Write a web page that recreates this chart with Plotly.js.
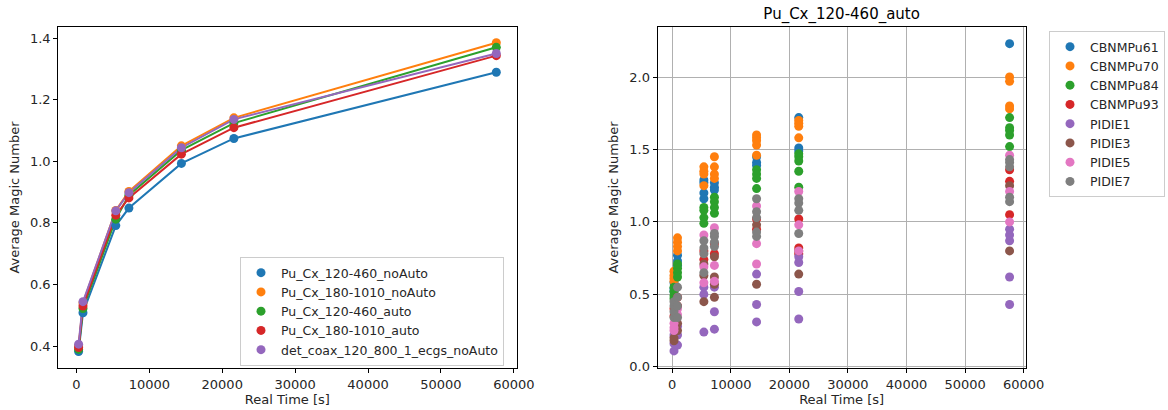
<!DOCTYPE html>
<html>
<head>
<meta charset="utf-8">
<script src="https://cdn.plot.ly/plotly-3.0.1.min.js"></script>
<style>
  html, body { margin: 0; padding: 0; background: #fff; }
  #chart { width: 1168px; height: 410px; }
</style>
</head>
<body>
<div id="chart"></div>
<script>
// ---------- data ----------
const timeSec = [300, 900, 5400, 7200, 14400, 21600, 57600];

// Left panel: average magic number per configuration
const configNames = [
  "Pu_Cx_120-460_noAuto",
  "Pu_Cx_180-1010_noAuto",
  "Pu_Cx_120-460_auto",
  "Pu_Cx_180-1010_auto",
  "det_coax_120_800_1_ecgs_noAuto"
];
const cfg_120_460_noAuto   = [0.382, 0.508, 0.791, 0.848, 0.993, 1.074, 1.289];
const cfg_180_1010_noAuto  = [0.400, 0.540, 0.840, 0.902, 1.050, 1.141, 1.385];
const cfg_120_460_auto     = [0.389, 0.522, 0.812, 0.890, 1.036, 1.124, 1.370];
const cfg_180_1010_auto    = [0.395, 0.530, 0.825, 0.881, 1.023, 1.109, 1.343];
const cfg_det_coax_noAuto  = [0.406, 0.544, 0.839, 0.898, 1.044, 1.136, 1.350];
const configValues = [cfg_120_460_noAuto, cfg_180_1010_noAuto, cfg_120_460_auto, cfg_180_1010_auto, cfg_det_coax_noAuto];

// Right panel: Pu_Cx_120-460_auto, per sample, values at each time (index matches timeSec)
const sampleNames = ["CBNMPu61", "CBNMPu70", "CBNMPu84", "CBNMPu93", "PIDIE1", "PIDIE3", "PIDIE5", "PIDIE7"];
const CBNMPu61 = [[0.58,0.54,0.52],[0.77,0.73,0.70],[1.29,1.27,1.20,1.16],[1.27,1.24,1.22],[1.45,1.41,1.39],[1.72,1.51,1.49],[2.23]];
const CBNMPu70 = [[0.66,0.63,0.61,0.59],[0.89,0.86,0.83,0.80],[1.38,1.35,1.33,1.25],[1.45,1.38,1.33,1.30],[1.60,1.58,1.56,1.53,1.46],[1.70,1.68,1.66,1.58],[2.00,1.97,1.80,1.78]];
const CBNMPu84 = [[0.55,0.52,0.49,0.47],[0.71,0.68,0.65,0.62],[1.10,1.08,1.03,0.99],[1.17,1.14,1.10,1.06],[1.36,1.33,1.30,1.23],[1.47,1.45,1.42,1.35,1.24],[1.72,1.65,1.63,1.60,1.52]];
const CBNMPu93 = [[0.40,0.35],[0.48,0.42],[0.80,0.74],[0.85,0.78],[1.02,0.95],[1.02,0.82,0.78],[1.36,1.28,1.05]];
const PIDIE1   = [[0.11,0.16,0.22],[0.15,0.22,0.28],[0.24,0.50,0.55],[0.26,0.38,0.55],[0.31,0.43,0.64],[0.33,0.52,0.72,0.76],[0.43,0.62,0.87,0.91,0.95]];
const PIDIE3   = [[0.18,0.20],[0.30,0.25],[0.45,0.63,0.71],[0.48,0.57,0.62,0.76],[0.57,0.98],[0.64,0.80],[0.80,1.25]];
const PIDIE5   = [[0.25,0.30,0.27],[0.40,0.36],[0.58,0.69,0.91],[0.59,0.70,0.96],[0.71,0.85,1.11],[0.80,0.98,1.21],[1.00,1.21,1.46]];
const PIDIE7   = [[0.34,0.38,0.42,0.45],[0.34,0.42,0.48,0.55],[0.65,0.78,0.82,0.87],[0.83,0.86,0.90,0.92],[0.90,0.93,1.03,1.07,1.16],[0.92,1.08,1.13,1.16],[1.14,1.17,1.38,1.41,1.43]];
const sampleValues = [CBNMPu61, CBNMPu70, CBNMPu84, CBNMPu93, PIDIE1, PIDIE3, PIDIE5, PIDIE7];

const xTicks = [0, 10000, 20000, 30000, 40000, 50000, 60000];

// ---------- style ----------
const colors = ["#1f77b4", "#ff7f0e", "#2ca02c", "#d62728", "#9467bd", "#8c564b", "#e377c2", "#7f7f7f"];
const FONT = "DejaVu Sans, sans-serif";
const TXT = "#262626";

const traces = [];
configNames.forEach((name, i) => {
  traces.push({
    x: timeSec, y: configValues[i], type: "scatter", mode: "lines",
    line: {color: colors[i], width: 2}, showlegend: false, hoverinfo: "skip",
    xaxis: "x", yaxis: "y"
  });
});
configNames.forEach((name, i) => {
  traces.push({
    x: timeSec, y: configValues[i], type: "scatter", mode: "markers", name: name,
    marker: {color: colors[i], size: 9}, legend: "legend",
    xaxis: "x", yaxis: "y"
  });
});
sampleNames.forEach((name, i) => {
  const xs = [], ys = [];
  sampleValues[i].forEach((vals, k) => vals.forEach(v => { xs.push(timeSec[k]); ys.push(v); }));
  traces.push({
    x: xs, y: ys, type: "scatter", mode: "markers", name: name,
    marker: {color: colors[i], size: 9}, legend: "legend2",
    xaxis: "x2", yaxis: "y2"
  });
});

const axisCommon = {
  showline: true, mirror: true, linecolor: "#000", linewidth: 1,
  ticks: "outside", ticklen: 4, tickwidth: 1, tickcolor: "#000",
  zeroline: false,
  tickfont: {family: FONT, size: 13, color: TXT}
};
const yDom = [1 - 368/410, 1 - 27/410];

const layout = {
  width: 1168, height: 410,
  margin: {l: 0, r: 0, t: 0, b: 0},
  paper_bgcolor: "#fff", plot_bgcolor: "#fff",
  font: {family: FONT, color: TXT},
  showlegend: true,
  title: {text: "Pu_Cx_120-460_auto", font: {family: FONT, size: 15, color: "#000"},
          x: (657.6 + 1025.7) / 2 / 1168, xanchor: "center", y: 1 - 14/410, yanchor: "middle"},
  xaxis: Object.assign({}, axisCommon, {
    domain: [58.2/1168, 516.5/1168], range: [-2500, 60370], anchor: "y",
    tickvals: xTicks, ticktext: xTicks.map(String), showgrid: false,
    title: {text: "Real Time [s]", font: {family: FONT, size: 13, color: TXT}, standoff: 3}
  }),
  yaxis: Object.assign({}, axisCommon, {
    domain: yDom, range: [0.3286, 1.436], anchor: "x",
    tickvals: [0.4, 0.6, 0.8, 1.0, 1.2, 1.4], tickformat: ".1f", showgrid: false,
    title: {text: "Average Magic Number", font: {family: FONT, size: 13, color: TXT}, standoff: 7}
  }),
  xaxis2: Object.assign({}, axisCommon, {
    domain: [657.6/1168, 1025.7/1168], range: [-2500, 60350], anchor: "y2",
    tickvals: xTicks, ticktext: xTicks.map(String),
    showgrid: true, gridcolor: "#b0b0b0", gridwidth: 1,
    title: {text: "Real Time [s]", font: {family: FONT, size: 13, color: TXT}, standoff: 3}
  }),
  yaxis2: Object.assign({}, axisCommon, {
    domain: yDom, range: [-0.008, 2.345], anchor: "x2",
    tickvals: [0, 0.5, 1.0, 1.5, 2.0], tickformat: ".1f",
    showgrid: true, gridcolor: "#b0b0b0", gridwidth: 1,
    title: {text: "Average Magic Number", font: {family: FONT, size: 13, color: TXT}, standoff: 7}
  }),
  legend: {
    x: 240/1168, y: 1 - 257/410, xanchor: "left", yanchor: "top",
    bgcolor: "rgba(255,255,255,0.8)", bordercolor: "#cccccc", borderwidth: 1,
    font: {family: FONT, size: 12.5, color: TXT}
  },
  legend2: {
    x: 1049/1168, y: 1 - 31/410, xanchor: "left", yanchor: "top",
    bgcolor: "#fff", bordercolor: "#cccccc", borderwidth: 1,
    font: {family: FONT, size: 12.5, color: TXT}
  }
};

Plotly.newPlot("chart", traces, layout, {displayModeBar: false, staticPlot: true});
</script>
</body>
</html>
